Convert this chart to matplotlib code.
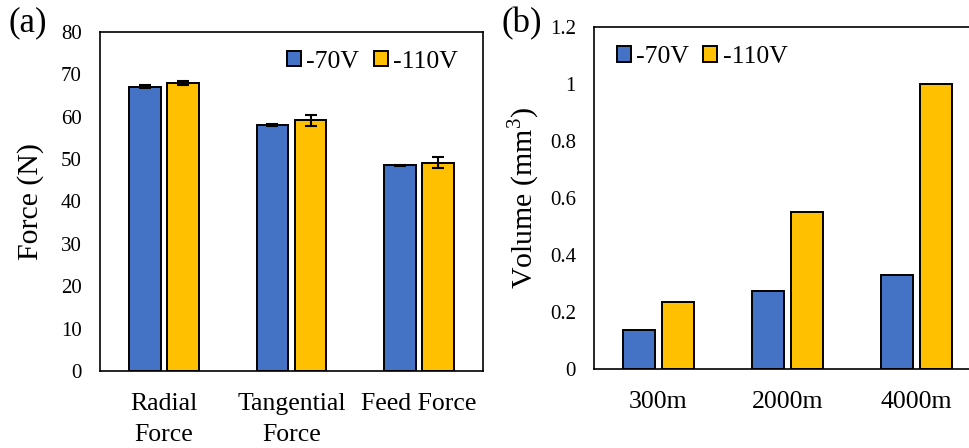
import matplotlib
matplotlib.use("Agg")
import matplotlib.pyplot as plt
import numpy as np
from matplotlib.ticker import FuncFormatter

# data
force_cats = ["Radial\nForce", "Tangential\nForce", "Feed Force"]
force_70 = [67.1, 58.0, 48.5]
force_110 = [68.0, 59.2, 49.2]
err_70 = [0.4, 0.2, 0.2]
err_110 = [0.4, 1.3, 1.4]

dist_cats = ["300m", "2000m", "4000m"]
vol_70 = [0.137, 0.274, 0.329]
vol_110 = [0.236, 0.551, 1.0]

BLUE = "#4472C4"
ORANGE = "#FFC000"

plt.rcParams['font.family'] = ['Liberation Serif', 'DejaVu Serif']
plt.rcParams['mathtext.fontset'] = 'custom'
plt.rcParams['mathtext.rm'] = 'Liberation Serif'

fig = plt.figure(figsize=(9.7, 4.48), dpi=100)
ax1 = fig.add_axes([0.1031, 0.1719, 0.3948, 0.7567])
ax2 = fig.add_axes([0.6124, 0.1763, 0.399, 0.7634])

w = 0.25
off = 0.149
err_style = dict(ecolor='black', elinewidth=1.5, capsize=4, capthick=1.5)


def style_axis(ax):
	for s in ax.spines.values():
		s.set_linewidth(1.2)
	ax.tick_params(axis='both', length=0)
	ax.tick_params(axis='y', labelsize=15, pad=13)
	ax.tick_params(axis='x', labelsize=18.5, pad=16)


x = np.arange(len(force_cats))
ax1.bar(x - off, force_70, w, color=BLUE, edgecolor='black', linewidth=1.4, label='-70V',
        yerr=err_70, error_kw=err_style)
ax1.bar(x + off, force_110, w, color=ORANGE, edgecolor='black', linewidth=1.4, label='-110V',
        yerr=err_110, error_kw=err_style)
ax1.set_xlim(-0.5, 2.5)
ax1.set_ylim(0, 80)
ax1.set_yticks(np.arange(0, 81, 10))
ax1.set_xticks(x)
ax1.set_xticklabels(force_cats, linespacing=1.5)
ax1.set_ylabel("Force (N)", fontsize=21.5, labelpad=12)
style_axis(ax1)
ax1.legend(loc='center left', bbox_to_anchor=(0.296, 0.862), bbox_transform=fig.transFigure,
           ncol=2, frameon=False, fontsize=18.5, handlelength=0.55, handleheight=0.55,
           handletextpad=0.2, columnspacing=0.55, borderpad=0, borderaxespad=0)

x2 = np.arange(len(dist_cats))
ax2.bar(x2 - off, vol_70, w, color=BLUE, edgecolor='black', linewidth=1.4, label='-70V')
ax2.bar(x2 + off, vol_110, w, color=ORANGE, edgecolor='black', linewidth=1.4, label='-110V')
ax2.set_xlim(-0.5, 2.5)
ax2.set_ylim(0, 1.2)
ax2.set_yticks(np.arange(0, 1.21, 0.2))
ax2.yaxis.set_major_formatter(FuncFormatter(lambda v, p: f"{v:g}"))
ax2.set_xticks(x2)
ax2.set_xticklabels(dist_cats)
ax2.set_ylabel("Volume (mm$^3$)", fontsize=21.5, labelpad=6)
style_axis(ax2)
ax2.legend(loc='center left', bbox_to_anchor=(0.636, 0.873), bbox_transform=fig.transFigure,
           ncol=2, frameon=False, fontsize=18.5, handlelength=0.55, handleheight=0.55,
           handletextpad=0.2, columnspacing=0.55, borderpad=0, borderaxespad=0)

fig.text(0.009, 0.985, "(a)", fontsize=25, va='top', ha='left')
fig.text(0.517, 0.985, "(b)", fontsize=25, va='top', ha='left')

fig.savefig("out.png", dpi=100)
